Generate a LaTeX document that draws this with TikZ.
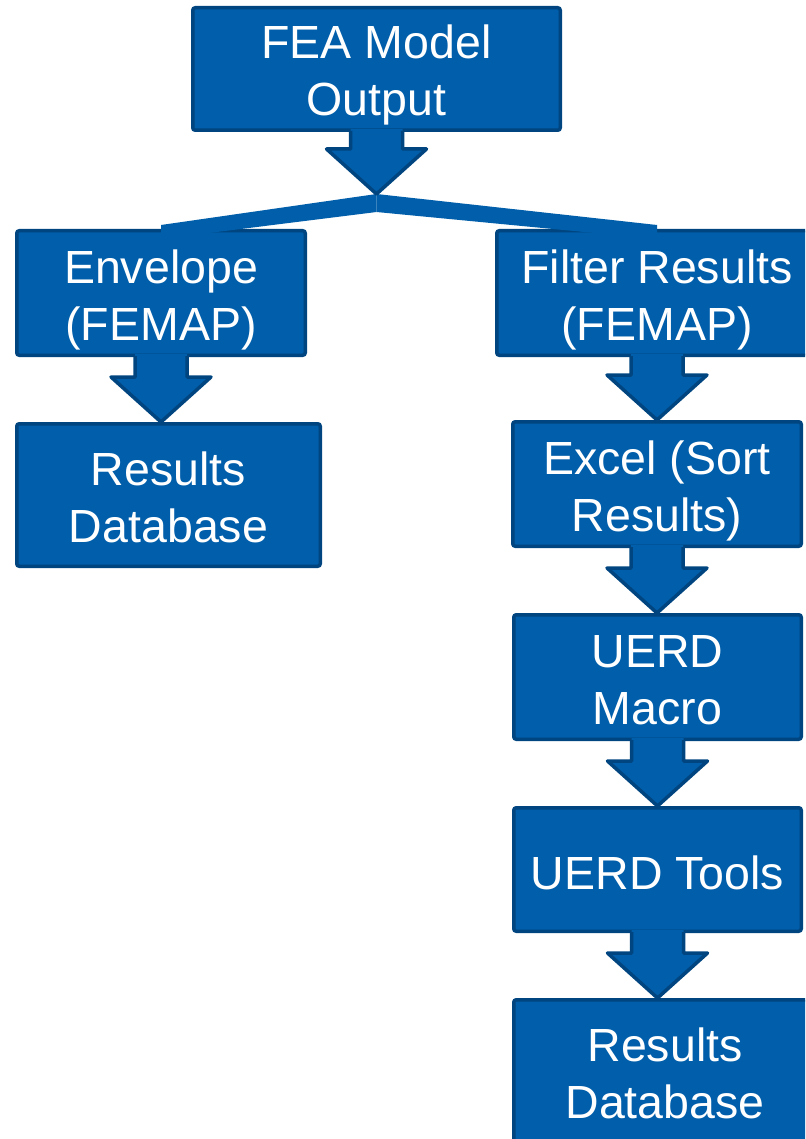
\documentclass[tikz,border=0pt]{standalone}
\usepackage{fontspec}
\setmainfont{Liberation Sans}
\usetikzlibrary{calc}
\definecolor{boxblue}{RGB}{0,94,170}
\definecolor{edgeblue}{RGB}{0,69,127}
\newcommand\blockarrow[2]{%
  \fill[boxblue] let \p1=(#1), \p3=(#1 |- #2) in
    (\x1-26pt,\y1+3pt) -- (\x1-26pt,\y3+45pt) -- (\x1-50pt,\y3+45pt) -- (\x1,\y3)
    -- (\x1+50pt,\y3+45pt) -- (\x1+26pt,\y3+45pt) -- (\x1+26pt,\y1+3pt) -- cycle;
  \draw[edgeblue,line width=3.5pt,line join=round] let \p1=(#1), \p3=(#1 |- #2) in
    (\x1-26pt,\y1+1pt) -- (\x1-26pt,\y3+45pt) -- (\x1-50pt,\y3+45pt) -- (\x1,\y3)
    -- (\x1+50pt,\y3+45pt) -- (\x1+26pt,\y3+45pt) -- (\x1+26pt,\y1+1pt);
}
\tikzset{
  flowbox/.style={draw=edgeblue, fill=boxblue, line width=3.5pt, rounded corners=2.5pt,
    text=white, align=center, inner sep=0pt,
    font=\fontsize{46.5}{57}\selectfont,
    text height=100pt, text depth=6pt},
  oneline/.style={text height=39pt, text depth=0pt},
  branch/.style={fill=boxblue}
}
\begin{document}
\begin{tikzpicture}[x=1pt,y=-1pt]
\useasboundingbox (0,0) rectangle (805,1139);
\clip (0,0) rectangle (805,1139);
% boxes
\node[flowbox, minimum width=367.5pt, minimum height=122.5pt] (fea) at (376.5,69) {FEA Model\\Output};
\node[flowbox, minimum width=288.5pt, minimum height=124.5pt] (env) at (161,293) {Envelope\\(FEMAP)};
\node[flowbox, minimum width=303.5pt, minimum height=142.5pt] (rdbA) at (168.5,495) {Results\\Database};
\node[flowbox, minimum width=320.5pt, minimum height=124.5pt] (filt) at (657,293) {Filter Results\\(FEMAP)};
\node[flowbox, minimum width=288.5pt, minimum height=124.5pt] (excel) at (657,484) {Excel (Sort\\Results)};
\node[flowbox, minimum width=287.5pt, minimum height=124.5pt] (macro) at (657.5,677) {UERD\\Macro};
\node[flowbox, oneline, minimum width=287.5pt, minimum height=123.5pt] (tools) at (657.5,869.5) {UERD Tools};
\node[flowbox, minimum width=302.5pt, minimum height=142.5pt] (rdbB) at (665,1071) {Results\\Database};
% split point
\coordinate (split) at (376.5,194);
% branch lines
\fill[branch] (split) -- ($(env.north)+(0,-4)$) -- ($(env.north)+(0,10)$) -- ($(split)+(0,18)$) -- cycle;
\fill[branch] (split) -- ($(filt.north)+(0,-4)$) -- ($(filt.north)+(0,10)$) -- ($(split)+(0,18)$) -- cycle;
% block arrows
\blockarrow{fea.south}{split}
\blockarrow{env.south}{rdbA.north}
\blockarrow{filt.south}{excel.north}
\blockarrow{excel.south}{macro.north}
\blockarrow{macro.south}{tools.north}
\blockarrow{tools.south}{rdbB.north}
\end{tikzpicture}
\end{document}
